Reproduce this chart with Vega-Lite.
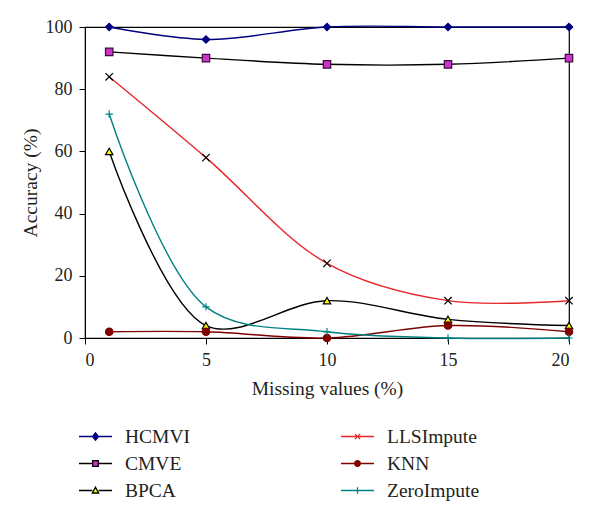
{
  "$schema": "https://vega.github.io/schema/vega-lite/v6.json",
  "autosize": "none",
  "width": 484,
  "height": 311,
  "padding": {"left": 85, "top": 27, "right": 31, "bottom": 180},
  "background": "white",
  "config": {
    "view": {"stroke": "black", "strokeWidth": 1.2},
    "font": "Liberation Serif",
    "axis": {
      "grid": false,
      "domainColor": "black",
      "tickColor": "black",
      "tickSize": 6,
      "labelFont": "Liberation Serif",
      "labelFontSize": 18,
      "labelColor": "#231f20",
      "titleFont": "Liberation Serif",
      "titleFontSize": 19.5,
      "titleFontWeight": "normal",
      "titleColor": "#231f20"
    }
  },
  "data": {
    "values": [
      {"series": "HCMVI", "x": 1, "y": 100},
      {"series": "HCMVI", "x": 5, "y": 96},
      {"series": "HCMVI", "x": 10, "y": 100},
      {"series": "HCMVI", "x": 15, "y": 100},
      {"series": "HCMVI", "x": 20, "y": 100},
      {"series": "CMVE", "x": 1, "y": 92},
      {"series": "CMVE", "x": 5, "y": 90},
      {"series": "CMVE", "x": 10, "y": 88},
      {"series": "CMVE", "x": 15, "y": 88},
      {"series": "CMVE", "x": 20, "y": 90},
      {"series": "BPCA", "x": 1, "y": 60},
      {"series": "BPCA", "x": 5, "y": 4},
      {"series": "BPCA", "x": 10, "y": 12},
      {"series": "BPCA", "x": 15, "y": 6},
      {"series": "BPCA", "x": 20, "y": 4},
      {"series": "LLSImpute", "x": 1, "y": 84},
      {"series": "LLSImpute", "x": 5, "y": 58},
      {"series": "LLSImpute", "x": 10, "y": 24},
      {"series": "LLSImpute", "x": 15, "y": 12},
      {"series": "LLSImpute", "x": 20, "y": 12},
      {"series": "KNN", "x": 1, "y": 2},
      {"series": "KNN", "x": 5, "y": 2},
      {"series": "KNN", "x": 10, "y": 0},
      {"series": "KNN", "x": 15, "y": 4},
      {"series": "KNN", "x": 20, "y": 2},
      {"series": "ZeroImpute", "x": 1, "y": 72},
      {"series": "ZeroImpute", "x": 5, "y": 10},
      {"series": "ZeroImpute", "x": 10, "y": 2},
      {"series": "ZeroImpute", "x": 15, "y": 0},
      {"series": "ZeroImpute", "x": 20, "y": 0}
    ]
  },
  "encoding": {
    "x": {
      "field": "x", "type": "quantitative",
      "scale": {"domain": [0, 20], "nice": false, "zero": false},
      "axis": {"values": [0, 5, 10, 15, 20], "title": "Missing values (%)", "labelPadding": 7, "titlePadding": 10}
    },
    "y": {
      "field": "y", "type": "quantitative",
      "scale": {"domain": [0, 100], "nice": false},
      "axis": {"values": [0, 20, 40, 60, 80, 100], "title": "Accuracy (%)", "labelPadding": 7, "titlePadding": 5}
    }
  },
  "resolve": {"scale": {"shape": "independent", "stroke": "independent", "fill": "independent"}},
  "layer": [
    {
      "mark": {"type": "line", "interpolate": "catmull-rom", "strokeWidth": 1.4, "clip": false},
      "encoding": {
        "color": {
          "field": "series", "type": "nominal",
          "scale": {
            "domain": ["HCMVI", "CMVE", "BPCA", "LLSImpute", "KNN", "ZeroImpute"],
            "range": ["#000080", "#000000", "#000000", "#e8262a", "#800000", "#008080"]
          },
          "legend": null
        },
        "detail": {"field": "series"}
      }
    },
    {
      "mark": {"type": "point", "filled": false, "strokeWidth": 1.2, "size": 55, "fillOpacity": 1, "opacity": 1, "clip": false},
      "encoding": {
        "shape": {
          "field": "series", "type": "nominal",
          "scale": {
            "domain": ["HCMVI", "CMVE", "BPCA", "LLSImpute", "KNN", "ZeroImpute"],
            "range": ["diamond", "square", "triangle-up", "M-1,-1L1,1M-1,1L1,-1", "circle", "M-1,0H1M0,-1V1"]
          },
          "legend": null
        },
        "fill": {
          "field": "series", "type": "nominal",
          "scale": {
            "domain": ["HCMVI", "CMVE", "BPCA", "LLSImpute", "KNN", "ZeroImpute"],
            "range": ["#000080", "#cc33cc", "#ffff00", "transparent", "#800000", "transparent"]
          },
          "legend": null
        },
        "stroke": {
          "field": "series", "type": "nominal",
          "scale": {
            "domain": ["HCMVI", "CMVE", "BPCA", "LLSImpute", "KNN", "ZeroImpute"],
            "range": ["#000080", "#3a0a3a", "#000000", "#000000", "#800000", "#008080"]
          },
          "legend": null
        }
      }
    },
    {
      "mark": {"type": "point", "filled": true, "strokeWidth": 1.3, "opacity": 0, "clip": false},
      "encoding": {
        "shape": {
          "field": "series", "type": "nominal",
          "scale": {
            "domain": ["HCMVI", "CMVE", "BPCA", "LLSImpute", "KNN", "ZeroImpute"],
            "range": [
              "M-1,0H1M0,-0.22L0.18,0L0,0.22L-0.18,0Z",
              "M-1,0H-0.17M0.17,0H1M-0.17,-0.17H0.17V0.17H-0.17Z",
              "M-1,0H-0.19M0.19,0H1M0,-0.2L0.19,0.15L-0.19,0.15Z",
              "M-1,0H1M-0.16,-0.16L0.16,0.16M-0.16,0.16L0.16,-0.16",
              "M-1,0H1M0.17,0A0.17,0.17,0,1,1,-0.17,0A0.17,0.17,0,1,1,0.17,0Z",
              "M-1,0H1M0,-0.2V0.2"
            ]
          },
          "legend": {
            "title": null, "orient": "none", "legendX": -7, "legendY": 392, "padding": 0,
            "columns": 2, "columnPadding": 147, "rowPadding": -3,
            "symbolSize": 1089, "symbolStrokeWidth": 1.3, "symbolOpacity": 1, "symbolFillColor": "transparent",
            "labelFont": "Liberation Serif", "labelFontSize": 19.5, "labelColor": "#231f20", "labelOffset": 12, "labelLimit": 300
          }
        },
        "fill": {
          "field": "series", "type": "nominal",
          "scale": {
            "domain": ["HCMVI", "CMVE", "BPCA", "LLSImpute", "KNN", "ZeroImpute"],
            "range": ["#000080", "#cc33cc", "#ffff00", "transparent", "#800000", "transparent"]
          },
          "legend": {
            "title": null, "orient": "none", "legendX": -7, "legendY": 392, "padding": 0,
            "columns": 2, "columnPadding": 147, "rowPadding": -3,
            "symbolSize": 1089, "symbolStrokeWidth": 1.3, "symbolOpacity": 1, "symbolFillColor": "transparent",
            "labelFont": "Liberation Serif", "labelFontSize": 19.5, "labelColor": "#231f20", "labelOffset": 12, "labelLimit": 300
          }
        },
        "stroke": {
          "field": "series", "type": "nominal",
          "scale": {
            "domain": ["HCMVI", "CMVE", "BPCA", "LLSImpute", "KNN", "ZeroImpute"],
            "range": ["#000080", "#000000", "#000000", "#e8262a", "#800000", "#008080"]
          },
          "legend": {
            "title": null, "orient": "none", "legendX": -7, "legendY": 392, "padding": 0,
            "columns": 2, "columnPadding": 147, "rowPadding": -3,
            "symbolSize": 1089, "symbolStrokeWidth": 1.3, "symbolOpacity": 1, "symbolFillColor": "transparent",
            "labelFont": "Liberation Serif", "labelFontSize": 19.5, "labelColor": "#231f20", "labelOffset": 12, "labelLimit": 300
          }
        }
      }
    }
  ]
}
